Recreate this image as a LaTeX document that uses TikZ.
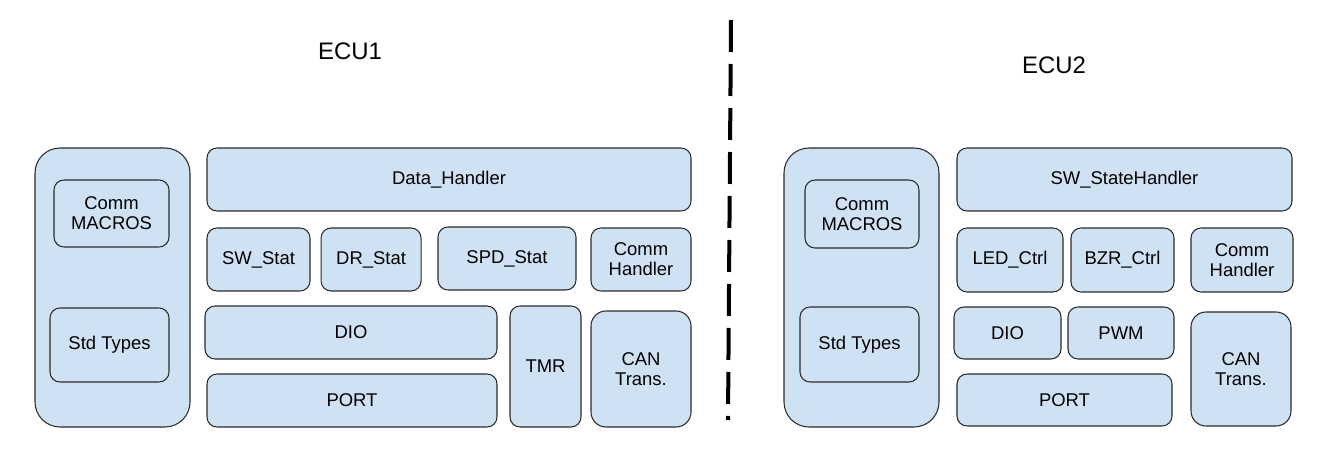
\documentclass[tikz,border=0pt]{standalone}
\usepackage{fontspec}
\setmainfont{Liberation Sans}
\usepackage{xcolor}
\usetikzlibrary{positioning}
\definecolor{boxblue}{HTML}{CFE2F3}
\definecolor{boxline}{HTML}{2B2B2B}
\tikzset{
  block/.style = {rectangle, draw=boxline, fill=boxblue, line width=0.6pt,
    align=center, rounded corners=0.2cm, inner sep=0pt,
    font=\fontsize{10.5}{11.5}\selectfont},
  bigblock/.style = {block, rounded corners=0.5cm},
  tallblock/.style = {block, rounded corners=0.3cm},
  ecu/.style = {font=\fontsize{13.6}{16}\selectfont},
  divider/.style = {line width=0.08cm, dash pattern=on 0.64cm off 0.24cm},
}
\begin{document}
\begin{tikzpicture}
  \useasboundingbox (0,0) rectangle (26.64,-9.3);

  % Titles
  \node[ecu] (ecu1) at (7.0,-1.02) {ECU1};
  \node[ecu] (ecu2) at (21.08,-1.3) {ECU2};

  % ECU1 common
  \node[bigblock, minimum width=3.1cm, minimum height=5.58cm] (core1) at (2.25,-5.75) {};
  \node[block, minimum width=2.3cm, minimum height=1.34cm] (macros1) at (2.23,-4.27) {Comm\\MACROS};
  \node[block, minimum width=2.38cm, minimum height=1.48cm] (types1) at (2.19,-6.9) {Std Types};

  % ECU1 layers
  \node[block, minimum width=9.68cm, minimum height=1.26cm] (datah) at (8.98,-3.59) {Data\_Handler};
  \node[block, minimum width=2.06cm, minimum height=1.26cm] (swstat) at (5.17,-5.19) {SW\_Stat};
  \node[block, minimum width=2.0cm, minimum height=1.26cm, right=0.2cm of swstat] (drstat) {DR\_Stat};
  \node[block, minimum width=2.76cm, minimum height=1.26cm] (spdstat) at (10.14,-5.17) {SPD\_Stat};
  \node[block, minimum width=2.0cm, minimum height=1.26cm] (commh1) at (12.82,-5.19) {Comm\\Handler};
  \node[block, minimum width=5.84cm, minimum height=1.06cm] (dio1) at (7.02,-6.65) {DIO};
  \node[block, minimum width=5.8cm, minimum height=1.06cm] (port1) at (7.04,-8.01) {PORT};
  \node[block, minimum width=1.42cm, minimum height=2.42cm] (tmr) at (10.91,-7.33) {TMR};
  \node[tallblock, minimum width=2.0cm, minimum height=2.32cm] (can1) at (12.82,-7.38) {CAN\\Trans.};

  % Divider
  \coordinate (divtop) at (14.62,-0.4);
  \coordinate (divbot) at (14.56,-8.4);
  \draw[divider] (divtop) -- (divbot);

  % ECU2 common
  \node[bigblock, minimum width=3.1cm, minimum height=5.58cm] (core2) at (17.23,-5.75) {};
  \node[block, minimum width=2.28cm, minimum height=1.36cm] (macros2) at (17.24,-4.28) {Comm\\MACROS};
  \node[block, minimum width=2.38cm, minimum height=1.5cm] (types2) at (17.19,-6.89) {Std Types};

  % ECU2 layers
  \node[block, minimum width=6.7cm, minimum height=1.26cm] (swsh) at (22.49,-3.59) {SW\_StateHandler};
  \node[block, minimum width=2.12cm, minimum height=1.28cm] (ledctrl) at (20.2,-5.2) {LED\_Ctrl};
  \node[block, minimum width=2.06cm, minimum height=1.28cm] (bzrctrl) at (22.45,-5.2) {BZR\_Ctrl};
  \node[block, minimum width=2.04cm, minimum height=1.28cm] (commh2) at (24.84,-5.2) {Comm\\Handler};
  \node[block, minimum width=2.14cm, minimum height=1.04cm] (dio2) at (20.15,-6.66) {DIO};
  \node[block, minimum width=2.12cm, minimum height=1.04cm] (pwm) at (22.42,-6.66) {PWM};
  \node[block, minimum width=4.3cm, minimum height=1.04cm] (port2) at (21.29,-8.0) {PORT};
  \node[tallblock, minimum width=2.0cm, minimum height=2.28cm] (can2) at (24.82,-7.38) {CAN\\Trans.};

\end{tikzpicture}
\end{document}
